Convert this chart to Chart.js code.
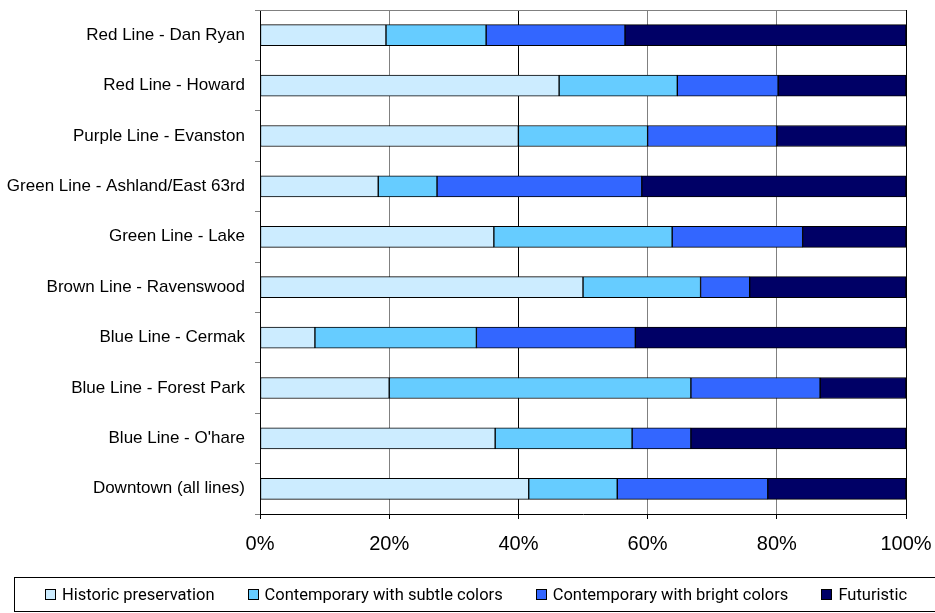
<!DOCTYPE html>
<html>
<head>
<meta charset="utf-8">
<script src="https://cdn.jsdelivr.net/npm/chart.js@4/dist/chart.umd.min.js"></script>
<style>
  html, body { margin: 0; padding: 0; background: #fff; }
  #wrap { position: relative; width: 935px; height: 613px; overflow: hidden; }
  #legend {
    position: absolute; left: 14px; top: 577px; width: 960px; height: 35px;
    box-sizing: border-box; border: 1px solid #000;
    display: flex; align-items: center; padding-left: 30px;
    font-family: Roboto, 'Liberation Sans', sans-serif; font-size: 16.5px; color: #000;
  }
  #legend .item { display: flex; align-items: center; margin-right: 33px; white-space: nowrap; }
  #legend .sw { width: 11px; height: 11px; box-sizing: border-box; border: 1px solid #000; margin-right: 6px; }
</style>
</head>
<body>
<div id="wrap">
  <canvas id="myChart" width="935" height="613"></canvas>
  <div id="legend"></div>
</div>
<script>
// lines, top to bottom
const lines = ["Red Line - Dan Ryan", "Red Line - Howard", "Purple Line - Evanston",
  "Green Line - Ashland/East 63rd", "Green Line - Lake", "Brown Line - Ravenswood",
  "Blue Line - Cermak", "Blue Line - Forest Park", "Blue Line - O'hare", "Downtown (all lines)"];

// share of answers, percent
const historic = [19.5, 46.3, 40.0, 18.3, 36.2, 50.0, 8.5, 20.0, 36.4, 41.6];
const subtle   = [15.5, 18.3, 20.0, 9.1, 27.6, 18.2, 25.0, 46.7, 21.2, 13.7];
const bright   = [21.5, 15.6, 20.0, 31.7, 20.2, 7.6, 24.6, 20.0, 9.1, 23.3];
const futurist = [43.5, 19.8, 20.0, 40.9, 16.0, 24.2, 41.9, 13.3, 33.3, 21.4];

const xTicks = [0, 20, 40, 60, 80, 100];

// line on top of the plot
const topLine = {
  id: 'topLine',
  afterDraw(chart) {
    const ctx = chart.ctx;
    const a = chart.chartArea;
    ctx.save();
    ctx.strokeStyle = '#808080';
    ctx.lineWidth = 1;
    ctx.beginPath();
    ctx.moveTo(a.left, a.top + 0.5);
    ctx.lineTo(a.right, a.top + 0.5);
    ctx.stroke();
    ctx.restore();
  }
};

const chart = new Chart("myChart", {
  type: "bar",
  data: {
    labels: lines,
    datasets: [
      { label: 'Historic preservation', data: historic, backgroundColor: '#CCECFF' },
      { label: 'Contemporary with subtle colors', data: subtle, backgroundColor: '#66CCFF' },
      { label: 'Contemporary with bright colors', data: bright, backgroundColor: '#3366FF' },
      { label: 'Futuristic', data: futurist, backgroundColor: '#000066' }
    ]
  },
  options: {
    indexAxis: 'y',
    responsive: false,
    animation: false,
    layout: { padding: { top: 10, right: 29, left: 0, bottom: 44 } },
    datasets: {
      bar: { borderColor: '#000', borderWidth: 1, borderSkipped: false, barThickness: 21 }
    },
    plugins: {
      legend: { display: false },
      tooltip: { enabled: false }
    },
    scales: {
      x: {
        stacked: true,
        min: 0, max: 100,
        afterBuildTicks: s => { s.ticks = xTicks.map(v => ({ value: v })); },
        afterFit: s => { s.paddingLeft = 0; s.paddingRight = 0; },
        ticks: { font: { family: "'Liberation Sans', Arial, sans-serif", size: 20 }, color: '#000',
          padding: 13, maxRotation: 0, callback: v => v + '%' },
        grid: {
          color: c => (c.tick && (c.tick.value === 40 || c.tick.value === 100)) ? '#000' : '#808080',
          tickColor: '#000', tickLength: 5, lineWidth: 1
        },
        border: { color: '#000' }
      },
      y: {
        stacked: true,
        afterFit: s => { s.width = 260; s.paddingTop = 0; s.paddingBottom = 0; },
        ticks: { font: { family: "'Liberation Sans', Arial, sans-serif", size: 17 }, color: '#000', padding: 10 },
        grid: { drawOnChartArea: false, color: '#808080', tickLength: 5 },
        border: { color: '#000' }
      }
    }
  },
  plugins: [topLine]
});

// legend in a framed row under the chart
const legend = document.getElementById('legend');
chart.data.datasets.forEach(ds => {
  const item = document.createElement('div');
  item.className = 'item';
  const sw = document.createElement('span');
  sw.className = 'sw';
  sw.style.background = ds.backgroundColor;
  const txt = document.createElement('span');
  txt.textContent = ds.label;
  item.appendChild(sw);
  item.appendChild(txt);
  legend.appendChild(item);
});
</script>
</body>
</html>
